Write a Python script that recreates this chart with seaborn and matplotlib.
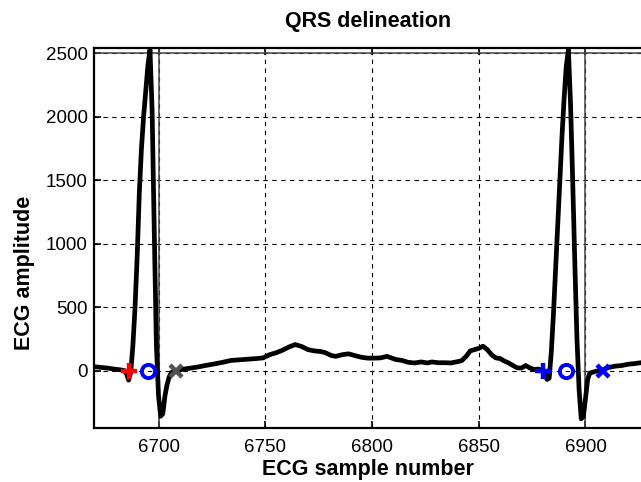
import matplotlib
matplotlib.use("Agg")
import matplotlib.pyplot as plt
import seaborn as sns
import pandas as pd

# ECG trace (sample number, amplitude)
sample_idx = [
    6670, 6673, 6676, 6679, 6682, 6684, 6685, 6686, 6687, 6688,
    6689, 6690, 6691, 6692, 6693, 6694, 6695, 6696, 6697, 6698,
    6699, 6700, 6701, 6702, 6703, 6704, 6705, 6706, 6708, 6712,
    6716, 6719, 6722, 6726, 6730, 6734, 6738, 6742, 6746, 6749,
    6752, 6755, 6758, 6761, 6764, 6767, 6770, 6773, 6776, 6778,
    6781, 6783, 6786, 6789, 6792, 6795, 6798, 6801, 6804, 6807,
    6809, 6811, 6814, 6817, 6820, 6823, 6826, 6828, 6831, 6834,
    6837, 6840, 6842, 6844, 6846, 6848, 6850, 6852, 6854, 6856,
    6858, 6860, 6862, 6864, 6866, 6868, 6870, 6872, 6874, 6876,
    6878, 6880, 6881, 6882, 6883, 6884, 6885, 6886, 6887, 6888,
    6889, 6890, 6891, 6892, 6893, 6894, 6895, 6896, 6897, 6898,
    6899, 6900, 6901, 6902, 6905, 6908, 6911, 6914, 6917, 6920,
    6923, 6926, 6930,
]
ecg_amp = [
    30, 25, 20, 12, 6, 0, -25, -75, -10, 200,
    500, 900, 1400, 1750, 2000, 2200, 2400, 2530, 2050, 1100,
    200, -200, -360, -340, -200, -110, -50, -15, 0, 12,
    22, 30, 40, 52, 65, 80, 85, 90, 95, 100,
    125, 140, 160, 185, 205, 190, 165, 155, 150, 142,
    118, 112, 125, 132, 118, 105, 98, 98, 100, 112,
    100, 88, 80, 65, 60, 68, 60, 68, 62, 62,
    60, 70, 78, 110, 155, 165, 175, 192, 165, 125,
    100, 95, 75, 60, 40, 22, 20, 40, 20, 8,
    12, 0, -30, -70, -60, 150, 450, 800, 1150, 1500,
    1850, 2150, 2400, 2530, 2100, 1500, 850, 250, -150, -380,
    -360, -220, -70, -20, -5, 5, 25, 35, 40, 50,
    55, 62, 65,
]

# delineation points: QRS onset (+), R peak (o), QRS offset (x)
beat1_marks = [6686, 6695, 6708]
beat2_marks = [6880, 6891, 6908]
window_edges = [6700, 6900]
level_line = 2500

x_ticks = [6700, 6750, 6800, 6850, 6900]
y_ticks = [0, 500, 1000, 1500, 2000, 2500]

sns.set_theme(style="white")
plt.rcParams["font.family"] = ["Liberation Sans", "DejaVu Sans"]
plt.rcParams["text.color"] = "black"
plt.rcParams["axes.labelcolor"] = "black"

df = pd.DataFrame({"sample": sample_idx, "amp": ecg_amp})

fig = plt.figure(figsize=(6.41, 4.82), dpi=100)
ax = fig.add_axes([0.1474, 0.1114, 0.8526, 0.7884])

# reference lines
for xv in window_edges:
    ax.axvline(xv, color="#444444", lw=1.1, zorder=1)
ax.axhline(level_line, color="#444444", lw=1.1, zorder=1)

sns.lineplot(data=df, x="sample", y="amp", sort=False, estimator=None,
             color="black", lw=3.4, ax=ax, zorder=2)

# markers
ax.plot(beat1_marks[0], 0, marker="+", color="#ff0000", ms=12, mew=3.2, ls="none", zorder=3)
ax.plot(beat1_marks[1], 0, marker="o", mfc="none", mec="#0000ff", ms=9.5, mew=2.8, ls="none", zorder=3)
ax.plot(beat1_marks[2], 0, marker="x", color="#505050", ms=8.5, mew=3.2, ls="none", zorder=3)
ax.plot(beat2_marks[0], 0, marker="+", color="#0000ff", ms=12, mew=3.2, ls="none", zorder=3)
ax.plot(beat2_marks[1], 0, marker="o", mfc="none", mec="#0000ff", ms=9.5, mew=2.8, ls="none", zorder=3)
ax.plot(beat2_marks[2], 0, marker="x", color="#0000ff", ms=8.5, mew=3.2, ls="none", zorder=3)

ax.set_xlim(6670, 6926)
ax.set_ylim(-455, 2540)
ax.set_xticks(x_ticks)
ax.set_yticks(y_ticks)
ax.grid(True, color="black", lw=0.8, linestyle=(0, (4, 4)))
ax.set_axisbelow(True)

for side in ["left", "bottom", "top"]:
    ax.spines[side].set_visible(True)
    ax.spines[side].set_color("black")
    ax.spines[side].set_linewidth(1.6)
ax.spines["right"].set_visible(False)

ax.tick_params(axis="both", direction="in", length=5, width=1.2, color="black",
               labelsize=13.5, labelcolor="black", top=True, left=True, bottom=True)
ax.tick_params(axis="x", pad=8)
ax.tick_params(axis="y", pad=5)

ax.set_title("QRS delineation", fontsize=15.5, fontweight="bold", pad=15, color="black")
ax.set_xlabel("ECG sample number", fontsize=15.5, fontweight="bold", labelpad=2)
ax.set_ylabel("ECG amplitude", fontsize=15.5, fontweight="bold")
ax.yaxis.set_label_coords(-0.108, 0.408)

fig.savefig("out.png", dpi=100)
